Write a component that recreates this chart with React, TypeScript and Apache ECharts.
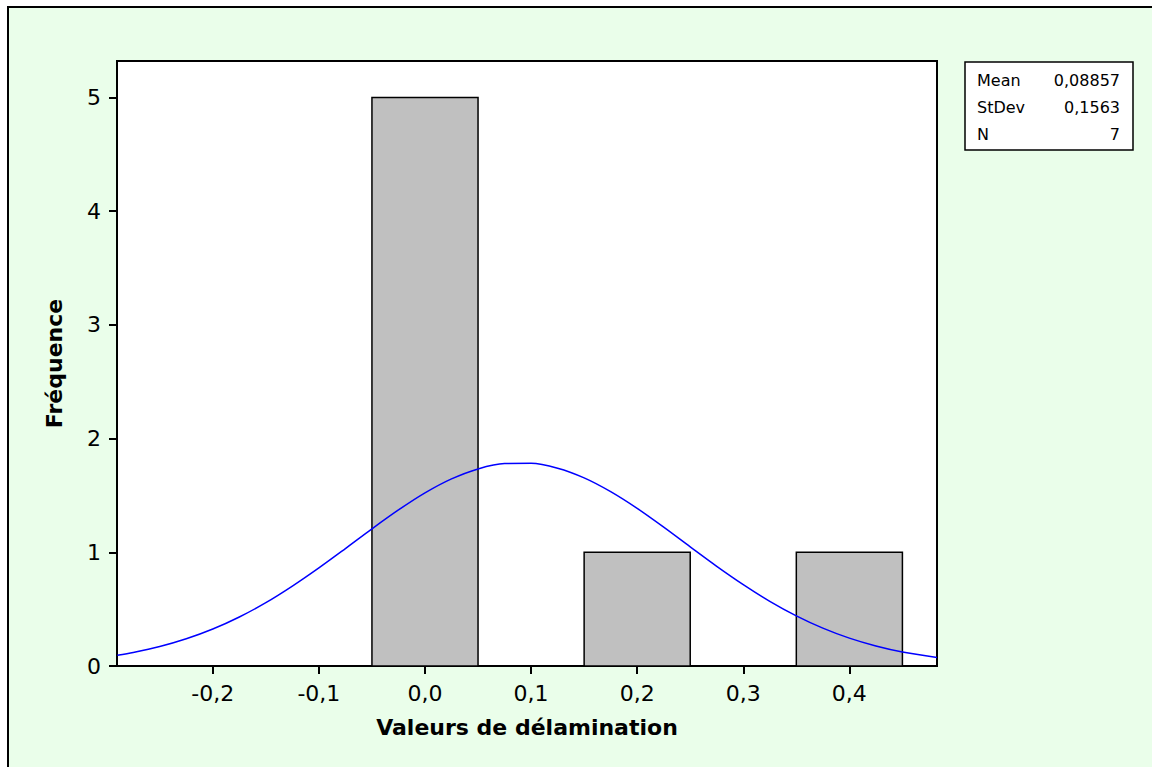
import React, { useEffect, useRef } from "react";
import * as echarts from "echarts";

// Histogram bins (lower edge, upper edge, frequency)
const binLower = [-0.05, 0.15, 0.35];
const binUpper = [0.05, 0.25, 0.45];
const binCounts = [5, 1, 1];

// Fitted normal curve
const curveX = [-0.29, -0.275, -0.25, -0.225, -0.2, -0.175, -0.15, -0.125, -0.1, -0.075, -0.05, -0.025, 0, 0.025, 0.05, 0.075, 0.1, 0.125, 0.15, 0.175, 0.2, 0.225, 0.25, 0.275, 0.3, 0.325, 0.35, 0.375, 0.4, 0.425, 0.45, 0.4826];
const curveY = [0.095, 0.119, 0.171, 0.239, 0.325, 0.431, 0.557, 0.703, 0.863, 1.033, 1.206, 1.372, 1.522, 1.645, 1.733, 1.78, 1.782, 1.739, 1.654, 1.533, 1.386, 1.221, 1.048, 0.877, 0.716, 0.569, 0.441, 0.333, 0.245, 0.176, 0.123, 0.075];

// Axis ticks
const xTicks = [-0.2, -0.1, 0, 0.1, 0.2, 0.3, 0.4];
const yTicks = [0, 1, 2, 3, 4, 5];

// Summary statistics box
const statLabels = ["Mean", "StDev", "N"];
const statValues = ["0,08857", "0,1563", "7"];

const FONT = "Verdana, Tahoma, 'DejaVu Sans', sans-serif";

export default function App() {
  const ref = useRef<HTMLDivElement>(null);

  useEffect(() => {
    if (!ref.current) return;
    const chart = echarts.init(ref.current, null, { renderer: "svg" });

    const barData = binLower.map((lo, i) => [lo, binUpper[i], binCounts[i]]);
    const curveData = curveX.map((x, i) => [x, curveY[i]]);

    const statTexts: any[] = [];
    statLabels.forEach((lab, i) => {
      const cy = 80 + i * 27;
      statTexts.push({
        type: "text",
        x: 977,
        y: cy,
        style: { text: lab, fill: "#000", font: `16px ${FONT}`, textAlign: "left", textVerticalAlign: "middle" },
      });
      statTexts.push({
        type: "text",
        x: 1120,
        y: cy,
        style: { text: statValues[i], fill: "#000", font: `16px ${FONT}`, textAlign: "right", textVerticalAlign: "middle" },
      });
    });

    chart.setOption({
      animation: false,
      backgroundColor: "#ffffff",
      textStyle: { fontFamily: FONT },
      graphic: [
        {
          type: "rect",
          z: -100,
          shape: { x: 8, y: 7, width: 1200, height: 800 },
          style: { fill: "#EAFEEA", stroke: "#000", lineWidth: 2 },
        },
        {
          type: "group",
          z: 100,
          children: [
            {
              type: "rect",
              shape: { x: 965, y: 62, width: 168, height: 88 },
              style: { fill: "#fff", stroke: "#000", lineWidth: 1.5 },
            },
            ...statTexts,
          ],
        },
      ],
      grid: {
        left: 117,
        top: 61,
        width: 820,
        height: 605,
        show: true,
        backgroundColor: "#fff",
        borderColor: "#000",
        borderWidth: 2,
        containLabel: false,
      },
      xAxis: {
        type: "value",
        min: -0.2903,
        max: 0.4826,
        splitLine: { show: false },
        axisLine: { show: true, onZero: false, lineStyle: { color: "#000", width: 2 } },
        axisTick: { show: true, length: 8, lineStyle: { color: "#000", width: 2 }, customValues: xTicks },
        axisLabel: {
          color: "#000",
          fontSize: 22,
          fontFamily: FONT,
          margin: 16,
          customValues: xTicks,
          formatter: (v: number) => v.toFixed(1).replace(".", ","),
        },
        name: "Valeurs de délamination",
        nameLocation: "middle",
        nameGap: 50,
        nameTextStyle: { color: "#000", fontSize: 22, fontWeight: "bold", fontFamily: FONT },
      },
      yAxis: {
        type: "value",
        min: 0,
        max: 5.32,
        splitLine: { show: false },
        axisLine: { show: true, onZero: false, lineStyle: { color: "#000", width: 2 } },
        axisTick: { show: true, length: 8, lineStyle: { color: "#000", width: 2 }, customValues: yTicks },
        axisLabel: {
          color: "#000",
          fontSize: 22,
          fontFamily: FONT,
          margin: 16,
          customValues: yTicks,
          formatter: (v: number) => String(Math.round(v)),
        },
        name: "Fréquence",
        nameLocation: "middle",
        nameGap: 52,
        nameTextStyle: { color: "#000", fontSize: 22, fontWeight: "bold", fontFamily: FONT },
      },
      series: [
        {
          type: "custom",
          z: 2,
          data: barData,
          encode: { x: [0, 1], y: 2 },
          renderItem: (params: any, api: any) => {
            const p0 = api.coord([api.value(0), api.value(2)]);
            const p1 = api.coord([api.value(1), 0]);
            return {
              type: "rect",
              shape: { x: p0[0], y: p0[1], width: p1[0] - p0[0], height: p1[1] - p0[1] },
              style: { fill: "#C0C0C0", stroke: "#000", lineWidth: 1.5 },
            };
          },
        },
        {
          type: "line",
          z: 3,
          data: curveData,
          symbol: "none",
          smooth: 0.3,
          lineStyle: { color: "#0000FF", width: 1.5 },
          itemStyle: { color: "#0000FF" },
        },
      ],
    });

    return () => chart.dispose();
  }, []);

  return (
    <div
      ref={ref}
      style={{ position: "absolute", left: 0, top: 0, width: 1152, height: 767 }}
    />
  );
}
